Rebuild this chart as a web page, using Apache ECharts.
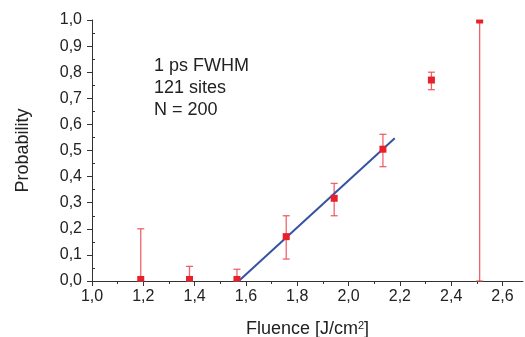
<!DOCTYPE html>
<html>
<head>
<meta charset="utf-8">
<script src="https://cdn.jsdelivr.net/npm/echarts@6/dist/echarts.min.js"></script>
<style>
  html, body { margin: 0; padding: 0; background: #fff; }
  #chart { width: 525px; height: 337px; }
</style>
</head>
<body>
<div id="chart"></div>
<script>
// data
const fluence = [1.19, 1.38, 1.565, 1.757, 1.944, 2.134, 2.323, 2.511];
const probability = [0.006, 0.006, 0.006, 0.17, 0.317, 0.505, 0.77, 1.0];
const errLow = [0, 0, 0, 0.084, 0.25, 0.438, 0.733, 0];
const errHigh = [0.2, 0.056, 0.045, 0.25, 0.374, 0.562, 0.80, 1.0];
const fitX = [1.572, 2.18];
const fitY = [0, 0.547];
const xTicks = [1.0, 1.2, 1.4, 1.6, 1.8, 2.0, 2.2, 2.4, 2.6];
const xMinorTicks = [1.1, 1.3, 1.5, 1.7, 1.9, 2.1, 2.3, 2.5];
const yMinorTicks = [0.05, 0.15, 0.25, 0.35, 0.45, 0.55, 0.65, 0.75, 0.85, 0.95];
const notes = ["1 ps FWHM", "121 sites", "N = 200"];

const chart = echarts.init(document.getElementById("chart"));
const font = "'Liberation Sans', Arial, sans-serif";
const axisColor = "#333";
const textColor = "#222";
const fmt = (v) => v.toFixed(1).replace(".", ",");

const option = {
  animation: false,
  textStyle: { fontFamily: font },
  grid: { left: 92, right: 2, top: 20, bottom: 56, outerBoundsMode: "none", containLabel: false },
  xAxis: [
    {
      type: "value",
      min: 1.0,
      max: 2.68,
      splitLine: { show: false },
      axisLine: { onZero: false, lineStyle: { color: axisColor, width: 1 } },
      axisTick: { customValues: xTicks, length: 5, lineStyle: { color: axisColor } },
      axisLabel: {
        customValues: xTicks,
        formatter: fmt,
        fontSize: 16,
        color: textColor,
        margin: 8,
      },
      name: "Fluence [J/cm{sup|2}]",
      nameLocation: "middle",
      nameGap: 39,
      nameTextStyle: {
        fontSize: 18,
        color: textColor,
        rich: { sup: { fontSize: 11, verticalAlign: "top", padding: [0, 0, 8, 0], color: textColor } },
      },
    },
    {
      // minor ticks only
      type: "value",
      min: 1.0,
      max: 2.68,
      position: "bottom",
      splitLine: { show: false },
      axisLine: { show: false },
      axisTick: { customValues: xMinorTicks, length: 3, lineStyle: { color: axisColor } },
      axisLabel: { show: false },
    },
  ],
  yAxis: [
    {
      type: "value",
      min: 0,
      max: 1,
      interval: 0.1,
      splitLine: { show: false },
      axisLine: { show: true, lineStyle: { color: axisColor, width: 1 } },
      axisTick: { show: true, length: 5, lineStyle: { color: axisColor } },
      axisLabel: { formatter: fmt, fontSize: 16, color: textColor, margin: 10 },
      name: "Probability",
      nameLocation: "middle",
      nameGap: 60,
      nameTextStyle: { fontSize: 18, color: textColor },
    },
    {
      // minor ticks pointing inward
      type: "value",
      min: 0,
      max: 1,
      position: "left",
      splitLine: { show: false },
      axisLine: { show: false },
      axisTick: { show: true, inside: true, customValues: yMinorTicks, length: 3, lineStyle: { color: axisColor } },
      axisLabel: { show: false },
    },
  ],
  graphic: notes.map((t, i) => ({
    type: "text",
    left: 154,
    top: 57 + i * 22,
    style: { text: t, fontSize: 18, fill: textColor, fontFamily: font },
  })),
  series: [
    {
      type: "line",
      data: fitX.map((x, i) => [x, fitY[i]]),
      symbol: "none",
      lineStyle: { color: "#3552a3", width: 2 },
      z: 3,
    },
    {
      // error bars
      type: "custom",
      data: fluence.map((x, i) => [x, errLow[i], errHigh[i]]),
      clip: false,
      renderItem: (params, api) => {
        const lo = api.coord([api.value(0), api.value(1)]);
        const hi = api.coord([api.value(0), api.value(2)]);
        const w = 3.5;
        const style = { stroke: "#ea4a52", lineWidth: 1.3, opacity: 0.85 };
        return {
          type: "group",
          children: [
            { type: "line", shape: { x1: lo[0], y1: lo[1], x2: hi[0], y2: hi[1] }, style },
            { type: "line", shape: { x1: hi[0] - w, y1: hi[1], x2: hi[0] + w, y2: hi[1] }, style },
            { type: "line", shape: { x1: lo[0] - w, y1: lo[1], x2: lo[0] + w, y2: lo[1] }, style },
          ],
        };
      },
      z: 2,
    },
    {
      // square markers, clipped to the plot area
      type: "custom",
      data: fluence.map((x, i) => [x, probability[i]]),
      clip: true,
      renderItem: (params, api) => {
        const p = api.coord([api.value(0), api.value(1)]);
        const s = 7;
        return {
          type: "rect",
          shape: { x: p[0] - s / 2, y: p[1] - s / 2, width: s, height: s },
          style: { fill: "#e8202a" },
        };
      },
      z: 4,
    },
  ],
};

chart.setOption(option);
</script>
</body>
</html>
